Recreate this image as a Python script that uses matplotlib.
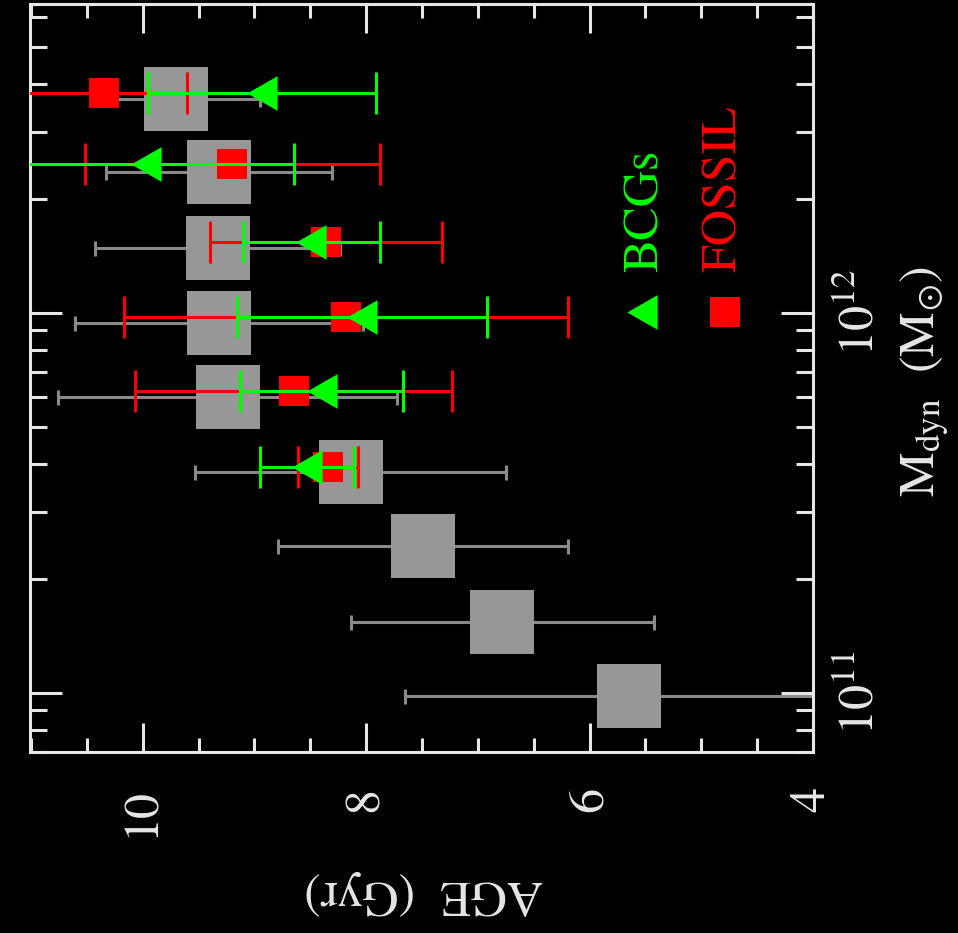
import numpy as np
import matplotlib.pyplot as plt
from matplotlib.ticker import FixedLocator, FixedFormatter, MultipleLocator, LogLocator, NullFormatter

plt.rcParams['font.family'] = 'STIXGeneral'
plt.rcParams['mathtext.fontset'] = 'stix'

# all galaxies in the mass bins (grey boxes), log10 Mdyn and age in Gyr
all_logm = [12.564, 12.370, 12.172, 11.974, 11.778, 11.582, 11.387, 11.187, 10.992]
all_age = [9.70, 9.32, 9.33, 9.32, 9.24, 8.14, 7.49, 6.78, 5.65]
all_err = [0.75, 1.01, 1.10, 1.29, 1.52, 1.39, 1.30, 1.36, 2.00]

# fossil group central galaxies (red squares)
fossil_logm = [12.578, 12.392, 12.187, 11.989, 11.795, 11.595]
fossil_age = [10.35, 9.20, 8.36, 8.18, 8.65, 8.34]
fossil_err = [0.75, 1.32, 1.04, 1.99, 1.42, 0.27]

# BCGs (green triangles)
bcg_logm = [12.578, 12.392, 12.187, 11.989, 11.795, 11.595]
bcg_age = [8.93, 9.97, 8.49, 8.04, 8.40, 8.53]
bcg_err = [1.02, 1.32, 0.61, 1.12, 0.73, 0.42]

fg = '#e6e6e6'
grey = '#979797'
red = '#ff0000'
green = '#00ff00'
tri = [(-0.87, 0), (0.87, 1), (0.87, -1)]   # triangle pointing left

fig = plt.figure(figsize=(9.58, 9.33), dpi=100, facecolor='black')
ax = fig.add_axes([0.0313, 0.194, 0.8173, 0.8017])
ax.set_facecolor('black')

m_all = 10 ** np.array(all_logm)
m_fos = 10 ** np.array(fossil_logm)
m_bcg = 10 ** np.array(bcg_logm)

ax.errorbar(all_age, m_all, xerr=all_err, fmt='none', ecolor='#8a8a8a',
            elinewidth=2.2, capsize=5.4, capthick=2.2, zorder=1)
ax.plot(all_age, m_all, 's', color=grey, ms=46.5, mew=0, zorder=2)

ax.errorbar(fossil_age, m_fos, xerr=fossil_err, fmt='none', ecolor=red,
            elinewidth=2.2, capsize=15, capthick=2.2, zorder=3)
ax.plot(fossil_age, m_fos, 's', color=red, ms=21, mew=0, zorder=4)

ax.errorbar(bcg_age, m_bcg, xerr=bcg_err, fmt='none', ecolor=green,
            elinewidth=2.2, capsize=15, capthick=2.2, zorder=5)
ax.plot(bcg_age, m_bcg, marker=tri, ls='none', color=green, ms=25, mew=0, zorder=6)

# legend drawn by hand, rotated like the rest of the figure
ax.plot([0.7816], [0.5882], marker=tri, color=green, ms=25, mew=0, transform=ax.transAxes)
ax.plot([0.8876], [0.5882], marker='s', color=red, ms=21, mew=0, transform=ax.transAxes)
ax.text(0.7870, 0.6417, 'BCGs', color=green, fontsize=36, rotation=90,
        ha='center', va='bottom', transform=ax.transAxes)
ax.text(0.8870, 0.6417, 'FOSSIL', color=red, fontsize=36, rotation=90,
        ha='center', va='bottom', transform=ax.transAxes)

ax.set_xlim(11.01, 4.0)
ax.set_yscale('log')
ax.set_ylim(10 ** 10.845, 10 ** 12.813)

ax.xaxis.set_major_locator(MultipleLocator(2))
ax.xaxis.set_minor_locator(MultipleLocator(0.5))
ax.yaxis.set_major_locator(FixedLocator([1e11, 1e12]))
ax.yaxis.set_major_formatter(FixedFormatter([r'$10^{11}$', r'$10^{12}$']))
ax.yaxis.set_minor_locator(LogLocator(base=10, subs=np.arange(2, 10)))
ax.yaxis.set_minor_formatter(NullFormatter())

for s in ax.spines.values():
    s.set_color(fg)
    s.set_linewidth(2.2)

ax.tick_params(which='both', direction='in', top=True, bottom=True, left=True, right=True,
               labelleft=False, labelright=True, labeltop=False, labelbottom=True,
               color=fg, width=2.2, labelcolor=fg)
ax.tick_params(axis='x', which='major', length=21, pad=25, labelsize=36, labelrotation=90)
ax.tick_params(axis='x', which='minor', length=10)
ax.tick_params(axis='y', which='major', length=23, pad=19, labelsize=36, labelrotation=90)
ax.tick_params(axis='y', which='minor', length=12)
for lab in ax.get_yticklabels():
    lab.set_va('center')

fig.text(0.442, 1 - 893 / 933, 'AGE  (Gyr)', rotation=180, ha='center', va='center',
         fontsize=36, color=fg)
fig.text(925 / 958, 1 - 381 / 933, r'$\mathrm{M_{dyn}}\ \ (\mathrm{M_{\odot}})$', rotation=90,
         ha='center', va='center', fontsize=36, color=fg)

fig.savefig('out.png', dpi=100, facecolor='black')
